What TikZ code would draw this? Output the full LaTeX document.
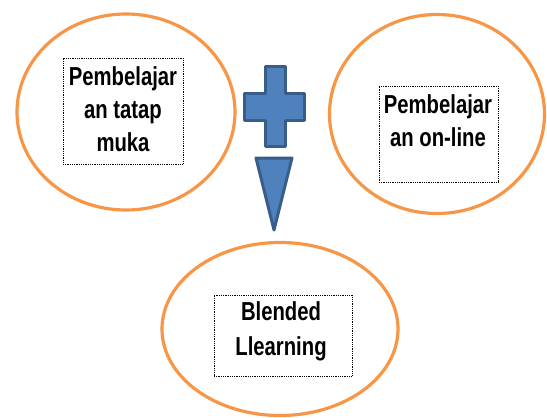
\documentclass[tikz,border=0pt]{standalone}
\usepackage{fontspec}
\setmainfont{Liberation Sans}
\newfontfamily\narrowbold[FakeStretch=0.78]{Liberation Sans Bold}
\usepackage{xcolor}
\usepackage{tikz}
\usetikzlibrary{shapes.geometric}
\definecolor{ringorange}{HTML}{F79646}
\definecolor{shapeblue}{HTML}{4F81BD}
\definecolor{shapeedge}{HTML}{385D8A}
\tikzset{
  ring/.style={draw=ringorange, ellipse, line width=3.2pt, inner sep=0pt},
  dotbox/.style={draw=black, line width=0.9pt, dash pattern=on 0.9pt off 0.9pt, inner sep=0pt},
  caption/.style={anchor=north, align=center, font=\narrowbold\fontsize{26}{33}\selectfont, inner sep=0pt},
  blueshape/.style={fill=shapeblue, draw=shapeedge, line width=3pt, line join=round}
}
\begin{document}
\begin{tikzpicture}[x=1pt, y=-1pt]
  \useasboundingbox (0,0) rectangle (547,418);

  % three circles
  \node[ring, minimum width=218pt, minimum height=196pt] (tatapmuka) at (126,112) {};
  \node[ring, minimum width=215pt, minimum height=199pt] (online) at (437,114) {};
  \node[ring, minimum width=236pt, minimum height=173pt] (blended) at (280,329) {};

  % dotted text frames
  \node[dotbox, minimum width=120pt, minimum height=106pt] (tatapbox) at (123,111) {};
  \node[dotbox, minimum width=119pt, minimum height=96pt] (onlinebox) at (438.5,134) {};
  \node[dotbox, minimum width=138pt, minimum height=81pt] (blendedbox) at (283,335.5) {};

  \node[caption] (tataptext) at (123,66.4) {Pembelajar\\an tatap\\muka};
  \node[caption] (onlinetext) at (438,94.4) {Pembelajar\\an on-line};
  \node[caption, font=\narrowbold\fontsize{26}{35}\selectfont] (blendedtext) at (281,301.4) {Blended\\Llearning};

  % plus sign and arrow head
  \draw[blueshape] (265.5,66.5) -- (285.5,66.5) -- (285.5,93.5) -- (304.5,93.5)
    -- (304.5,120.5) -- (285.5,120.5) -- (285.5,146.5) -- (265.5,146.5)
    -- (265.5,120.5) -- (244.5,120.5) -- (244.5,93.5) -- (265.5,93.5) -- cycle;
  \draw[blueshape] (256,158) -- (292,158) -- (274,230) -- cycle;
\end{tikzpicture}
\end{document}
